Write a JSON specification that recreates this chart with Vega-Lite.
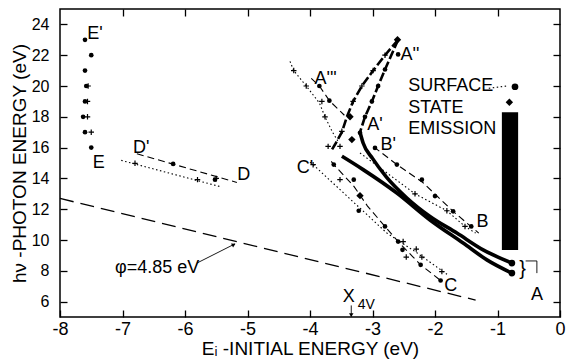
{
  "$schema": "https://vega.github.io/schema/vega-lite/v6.json",
  "width": 500,
  "height": 308,
  "autosize": "none",
  "padding": {"left": 60, "top": 9, "right": 7, "bottom": 45},
  "background": "white",
  "config": {"view": {"stroke": "black", "strokeWidth": 1.5}, "font": "Liberation Sans"},
  "datasets": {
    "lines": [
      {"s": "phi", "o": 1, "x": -8, "y": 12.7}, {"s": "phi", "o": 2, "x": -1.35, "y": 6.1},
      {"s": "Dd", "o": 1, "x": -6.77, "y": 15.6}, {"s": "Dd", "o": 2, "x": -5.17, "y": 13.74},
      {"s": "Dp", "o": 1, "x": -7.02, "y": 15.17}, {"s": "Dp", "o": 2, "x": -5.45, "y": 13.48},
      {"s": "AL", "o": 1, "x": -2.59, "y": 23}, {"s": "AL", "o": 2, "x": -2.8, "y": 22}, {"s": "AL", "o": 3, "x": -2.99, "y": 21}, {"s": "AL", "o": 4, "x": -3.17, "y": 20}, {"s": "AL", "o": 5, "x": -3.31, "y": 19}, {"s": "AL", "o": 6, "x": -3.41, "y": 18}, {"s": "AL", "o": 7, "x": -3.49, "y": 17}, {"s": "AL", "o": 8, "x": -3.6, "y": 16.2}, {"s": "AL", "o": 9, "x": -3.66, "y": 15.8},
      {"s": "AR", "o": 1, "x": -2.59, "y": 23}, {"s": "AR", "o": 2, "x": -2.8, "y": 21.07}, {"s": "AR", "o": 3, "x": -2.91, "y": 20}, {"s": "AR", "o": 4, "x": -3.01, "y": 19}, {"s": "AR", "o": 5, "x": -3.12, "y": 18}, {"s": "AR", "o": 6, "x": -3.2, "y": 17},
      {"s": "AU", "o": 1, "x": -3.2, "y": 17}, {"s": "AU", "o": 2, "x": -3.15, "y": 16.3}, {"s": "AU", "o": 3, "x": -3.0, "y": 15.3}, {"s": "AU", "o": 4, "x": -2.78, "y": 14.1}, {"s": "AU", "o": 5, "x": -2.45, "y": 12.73}, {"s": "AU", "o": 6, "x": -2.08, "y": 11.53}, {"s": "AU", "o": 7, "x": -1.65, "y": 10.45}, {"s": "AU", "o": 8, "x": -1.23, "y": 9.36}, {"s": "AU", "o": 9, "x": -0.77, "y": 8.5},
      {"s": "AW", "o": 1, "x": -3.49, "y": 15.44}, {"s": "AW", "o": 2, "x": -3.15, "y": 14.57}, {"s": "AW", "o": 3, "x": -2.61, "y": 13.05}, {"s": "AW", "o": 4, "x": -2.08, "y": 11.3}, {"s": "AW", "o": 5, "x": -1.55, "y": 9.8}, {"s": "AW", "o": 6, "x": -1.17, "y": 8.71}, {"s": "AW", "o": 7, "x": -0.77, "y": 7.85},
      {"s": "A3d", "o": 1, "x": -3.98, "y": 20.5}, {"s": "A3d", "o": 2, "x": -3.85, "y": 20}, {"s": "A3d", "o": 3, "x": -3.69, "y": 19.05}, {"s": "A3d", "o": 4, "x": -3.45, "y": 18.1},
      {"s": "A3p", "o": 1, "x": -4.32, "y": 21.6}, {"s": "A3p", "o": 2, "x": -4.26, "y": 21}, {"s": "A3p", "o": 3, "x": -4.06, "y": 20}, {"s": "A3p", "o": 4, "x": -3.85, "y": 18.9}, {"s": "A3p", "o": 5, "x": -3.76, "y": 18}, {"s": "A3p", "o": 6, "x": -3.64, "y": 17}, {"s": "A3p", "o": 7, "x": -3.55, "y": 16.4},
      {"s": "Bd", "o": 1, "x": -2.98, "y": 16.05}, {"s": "Bd", "o": 2, "x": -2.61, "y": 14.9}, {"s": "Bd", "o": 3, "x": -2.2, "y": 13.75}, {"s": "Bd", "o": 4, "x": -1.71, "y": 11.86}, {"s": "Bd", "o": 5, "x": -1.3, "y": 10.45},
      {"s": "Bp", "o": 1, "x": -3.2, "y": 15.65}, {"s": "Bp", "o": 2, "x": -2.32, "y": 13.0}, {"s": "Bp", "o": 3, "x": -1.81, "y": 11.9}, {"s": "Bp", "o": 4, "x": -1.52, "y": 10.88}, {"s": "Bp", "o": 5, "x": -1.35, "y": 10.45},
      {"s": "Cd", "o": 1, "x": -3.66, "y": 15.1}, {"s": "Cd", "o": 2, "x": -3.62, "y": 14.9}, {"s": "Cd", "o": 3, "x": -3.3, "y": 13.5}, {"s": "Cd", "o": 4, "x": -3.08, "y": 12.2}, {"s": "Cd", "o": 5, "x": -2.8, "y": 10.88}, {"s": "Cd", "o": 6, "x": -2.59, "y": 9.9}, {"s": "Cd", "o": 7, "x": -2.35, "y": 8.89}, {"s": "Cd", "o": 8, "x": -2.23, "y": 8.39}, {"s": "Cd", "o": 9, "x": -1.91, "y": 7.37},
      {"s": "Cp", "o": 1, "x": -4.0, "y": 15.05}, {"s": "Cp", "o": 2, "x": -3.95, "y": 14.89}, {"s": "Cp", "o": 3, "x": -2.77, "y": 10.45}, {"s": "Cp", "o": 4, "x": -2.3, "y": 9.2}, {"s": "Cp", "o": 5, "x": -1.8, "y": 7.75},
      {"s": "surf", "o": 1, "x": -1.14, "y": 19.85}, {"s": "surf", "o": 2, "x": -0.85, "y": 20.0},
      {"s": "xarr", "o": 1, "x": -3.34, "y": 5.75}, {"s": "xarr", "o": 2, "x": -3.34, "y": 5.05},
      {"s": "phiarr", "o": 1, "x": -5.81, "y": 8.5}, {"s": "phiarr", "o": 2, "x": -5.2, "y": 9.75},
      {"s": "brk", "o": 1, "x": -0.55, "y": 8.64}, {"s": "brk", "o": 2, "x": -0.37, "y": 8.64}, {"s": "brk", "o": 3, "x": -0.37, "y": 7.85}
    ],
    "dots": [
      {"x": -7.6, "y": 23}, {"x": -7.5, "y": 22}, {"x": -7.6, "y": 21}, {"x": -7.58, "y": 20}, {"x": -7.6, "y": 19}, {"x": -7.63, "y": 18}, {"x": -7.6, "y": 17}, {"x": -7.5, "y": 16},
      {"x": -6.19, "y": 14.94}, {"x": -5.52, "y": 13.92},
      {"x": -2.59, "y": 22.05}, {"x": -2.8, "y": 21.07}, {"x": -2.91, "y": 20}, {"x": -3.01, "y": 19}, {"x": -3.12, "y": 18}, {"x": -3.2, "y": 16.96},
      {"x": -3.85, "y": 20}, {"x": -3.69, "y": 19.05},
      {"x": -2.96, "y": 15.98}, {"x": -2.61, "y": 14.9}, {"x": -2.21, "y": 13.92}, {"x": -2.0, "y": 12.85}, {"x": -1.71, "y": 11.86}, {"x": -1.42, "y": 10.88},
      {"x": -3.62, "y": 14.9}, {"x": -3.3, "y": 13.92}, {"x": -3.22, "y": 11.9}, {"x": -2.8, "y": 10.88}, {"x": -2.59, "y": 9.9}, {"x": -2.52, "y": 9.36}, {"x": -2.23, "y": 8.39}, {"x": -1.91, "y": 7.37}
    ],
    "bigdots": [
      {"x": -0.72, "y": 19.95}, {"x": -0.77, "y": 8.5}, {"x": -0.77, "y": 7.85}
    ],
    "plus": [
      {"x": -7.55, "y": 20}, {"x": -7.56, "y": 19}, {"x": -7.56, "y": 18}, {"x": -7.5, "y": 17},
      {"x": -6.8, "y": 14.98}, {"x": -5.8, "y": 13.92}, {"x": -5.5, "y": 14.0},
      {"x": -2.8, "y": 22}, {"x": -2.99, "y": 21}, {"x": -3.17, "y": 20}, {"x": -3.31, "y": 19}, {"x": -3.49, "y": 17.06}, {"x": -3.52, "y": 16.08},
      {"x": -4.26, "y": 21}, {"x": -4.06, "y": 20}, {"x": -3.81, "y": 19}, {"x": -3.76, "y": 18}, {"x": -3.71, "y": 16.08},
      {"x": -2.32, "y": 13.0}, {"x": -1.81, "y": 11.9}, {"x": -1.52, "y": 10.88},
      {"x": -3.95, "y": 14.89}, {"x": -3.52, "y": 13.92}, {"x": -2.51, "y": 9.9}, {"x": -2.3, "y": 9.41}, {"x": -2.21, "y": 8.89}, {"x": -2.46, "y": 8.89}, {"x": -1.89, "y": 7.95}
    ],
    "diamonds": [
      {"x": -3.36, "y": 18.0}, {"x": -3.33, "y": 16.52}, {"x": -3.2, "y": 12.88}, {"x": -0.81, "y": 18.95}, {"x": -2.6, "y": 23.0}
    ],
    "band": [{"x": -0.93, "x2": -0.67, "y": 9.35, "y2": 18.3}],
    "labelsC": [
      {"t": "E'", "x": -7.44, "y": 23.35}, {"t": "E", "x": -7.38, "y": 15.02},
      {"t": "D'", "x": -6.7, "y": 16.0}, {"t": "D", "x": -5.06, "y": 14.21},
      {"t": "C'", "x": -4.08, "y": 14.68}, {"t": "C", "x": -1.75, "y": 7.0},
      {"t": "B", "x": -1.24, "y": 11.19}, {"t": "A", "x": -0.37, "y": 6.44},
      {"t": "A'", "x": -2.96, "y": 17.5}, {"t": "B'", "x": -2.75, "y": 16.2},
      {"t": "A''", "x": -2.4, "y": 22.0}, {"t": "A'''", "x": -3.75, "y": 20.43},
      {"t": "X", "x": -3.38, "y": 6.27}
    ],
    "labelsL": [
      {"t": "SURFACE", "x": -2.43, "y": 19.97}, {"t": "STATE", "x": -2.43, "y": 18.6}, {"t": "EMISSION", "x": -2.43, "y": 17.23},
      {"t": "φ=4.85 eV", "x": -7.12, "y": 8.19}
    ],
    "labelsS": [{"t": "4V", "x": -3.1, "y": 5.79}],
    "brace": [{"t": "}", "x": -0.6, "y": 8.1}],
    "arrowDown": [{"x": -3.34, "y": 5.12}],
    "arrowPhi": [{"x": -5.22, "y": 9.7}]
  },
  "resolve": {"axis": {"x": "independent", "y": "independent"}},
  "layer": [
    {
      "data": {"name": "lines"},
      "mark": {"type": "point", "opacity": 0},
      "encoding": {
        "x": {"field": "x", "type": "quantitative", "scale": {"domain": [-8, 0], "nice": false, "zero": false},
          "axis": {"orient": "bottom", "values": [-8, -7, -6, -5, -4, -3, -2, -1, 0], "labelExpr": "datum.value + ''", "labelFlush": false, "tickSize": -7, "tickColor": "black", "tickWidth": 1.3, "domain": false, "grid": false, "labelFontSize": 18, "labelColor": "black", "labelPadding": 10, "title": "Eᵢ -INITIAL ENERGY (eV)", "titleFontSize": 19, "titleFontWeight": "normal", "titleColor": "black", "titlePadding": 1}},
        "y": {"field": "y", "type": "quantitative", "scale": {"domain": [5, 25], "nice": false, "zero": false},
          "axis": {"orient": "left", "values": [6, 8, 10, 12, 14, 16, 18, 20, 22, 24], "labelExpr": "datum.value + ''", "labelFlush": false, "tickSize": -7, "tickColor": "black", "tickWidth": 1.3, "domain": false, "grid": false, "labelFontSize": 16, "labelColor": "black", "labelPadding": 18, "title": "hν -PHOTON ENERGY (eV)", "titleFontSize": 19, "titleFontWeight": "normal", "titleColor": "black", "titlePadding": 2}}
      }
    },
    {
      "data": {"name": "lines"},
      "mark": {"type": "point", "opacity": 0},
      "encoding": {
        "x": {"field": "x", "type": "quantitative", "scale": {"domain": [-8, 0], "nice": false, "zero": false},
          "axis": {"orient": "top", "values": [-7, -6, -5, -4, -3, -2, -1], "labels": false, "tickSize": -7, "tickColor": "black", "tickWidth": 1.3, "domain": false, "grid": false, "title": null}},
        "y": {"field": "y", "type": "quantitative", "scale": {"domain": [5, 25], "nice": false, "zero": false},
          "axis": {"orient": "right", "values": [6, 8, 10, 12, 14, 16, 18, 20, 22, 24], "labels": false, "tickSize": -7, "tickColor": "black", "tickWidth": 1.3, "domain": false, "grid": false, "title": null}}
      }
    },
    {
      "data": {"name": "band"},
      "mark": {"type": "rect", "color": "black"},
      "encoding": {
        "x": {"field": "x", "type": "quantitative", "scale": {"domain": [-8, 0], "nice": false, "zero": false}, "axis": null},
        "x2": {"field": "x2"},
        "y": {"field": "y", "type": "quantitative", "scale": {"domain": [5, 25], "nice": false, "zero": false}, "axis": null},
        "y2": {"field": "y2"}
      }
    },
    {
      "data": {"name": "lines"},
      "transform": [{"filter": {"field": "s", "oneOf": ["phi"]}}],
      "mark": {"type": "line", "color": "black", "strokeWidth": 1.3, "strokeDash": [14, 7]},
      "encoding": {
        "x": {"field": "x", "type": "quantitative", "scale": {"domain": [-8, 0], "nice": false, "zero": false}, "axis": null},
        "y": {"field": "y", "type": "quantitative", "scale": {"domain": [5, 25], "nice": false, "zero": false}, "axis": null},
        "detail": {"field": "s"}, "order": {"field": "o", "type": "quantitative"}
      }
    },
    {
      "data": {"name": "lines"},
      "transform": [{"filter": {"field": "s", "oneOf": ["Dd", "A3d", "Bd", "Cd"]}}],
      "mark": {"type": "line", "color": "black", "strokeWidth": 1.1, "strokeDash": [7, 4]},
      "encoding": {
        "x": {"field": "x", "type": "quantitative", "scale": {"domain": [-8, 0], "nice": false, "zero": false}, "axis": null},
        "y": {"field": "y", "type": "quantitative", "scale": {"domain": [5, 25], "nice": false, "zero": false}, "axis": null},
        "detail": {"field": "s"}, "order": {"field": "o", "type": "quantitative"}
      }
    },
    {
      "data": {"name": "lines"},
      "transform": [{"filter": {"field": "s", "oneOf": ["Dp", "A3p", "Bp", "Cp", "surf"]}}],
      "mark": {"type": "line", "color": "black", "strokeWidth": 1.1, "strokeDash": [1.5, 2.5]},
      "encoding": {
        "x": {"field": "x", "type": "quantitative", "scale": {"domain": [-8, 0], "nice": false, "zero": false}, "axis": null},
        "y": {"field": "y", "type": "quantitative", "scale": {"domain": [5, 25], "nice": false, "zero": false}, "axis": null},
        "detail": {"field": "s"}, "order": {"field": "o", "type": "quantitative"}
      }
    },
    {
      "data": {"name": "lines"},
      "transform": [{"filter": {"field": "s", "oneOf": ["AL", "AR"]}}],
      "mark": {"type": "line", "color": "black", "strokeWidth": 2.6, "strokeDash": [9, 3]},
      "encoding": {
        "x": {"field": "x", "type": "quantitative", "scale": {"domain": [-8, 0], "nice": false, "zero": false}, "axis": null},
        "y": {"field": "y", "type": "quantitative", "scale": {"domain": [5, 25], "nice": false, "zero": false}, "axis": null},
        "detail": {"field": "s"}, "order": {"field": "o", "type": "quantitative"}
      }
    },
    {
      "data": {"name": "lines"},
      "transform": [{"filter": {"field": "s", "oneOf": ["AU", "AW"]}}],
      "mark": {"type": "line", "color": "black", "strokeWidth": 3.6, "interpolate": "monotone"},
      "encoding": {
        "x": {"field": "x", "type": "quantitative", "scale": {"domain": [-8, 0], "nice": false, "zero": false}, "axis": null},
        "y": {"field": "y", "type": "quantitative", "scale": {"domain": [5, 25], "nice": false, "zero": false}, "axis": null},
        "detail": {"field": "s"}, "order": {"field": "o", "type": "quantitative"}
      }
    },
    {
      "data": {"name": "lines"},
      "transform": [{"filter": {"field": "s", "oneOf": ["xarr", "phiarr", "brk"]}}],
      "mark": {"type": "line", "color": "black", "strokeWidth": 0.9},
      "encoding": {
        "x": {"field": "x", "type": "quantitative", "scale": {"domain": [-8, 0], "nice": false, "zero": false}, "axis": null},
        "y": {"field": "y", "type": "quantitative", "scale": {"domain": [5, 25], "nice": false, "zero": false}, "axis": null},
        "detail": {"field": "s"}, "order": {"field": "o", "type": "quantitative"}
      }
    },
    {
      "data": {"name": "dots"},
      "mark": {"type": "point", "shape": "circle", "filled": true, "color": "black", "size": 22, "opacity": 1},
      "encoding": {
        "x": {"field": "x", "type": "quantitative", "scale": {"domain": [-8, 0], "nice": false, "zero": false}, "axis": null},
        "y": {"field": "y", "type": "quantitative", "scale": {"domain": [5, 25], "nice": false, "zero": false}, "axis": null}
      }
    },
    {
      "data": {"name": "bigdots"},
      "mark": {"type": "point", "shape": "circle", "filled": true, "color": "black", "size": 45, "opacity": 1},
      "encoding": {
        "x": {"field": "x", "type": "quantitative", "scale": {"domain": [-8, 0], "nice": false, "zero": false}, "axis": null},
        "y": {"field": "y", "type": "quantitative", "scale": {"domain": [5, 25], "nice": false, "zero": false}, "axis": null}
      }
    },
    {
      "data": {"name": "plus"},
      "mark": {"type": "point", "shape": "M-1,0L1,0M0,-1L0,1", "filled": false, "color": "black", "strokeWidth": 1.2, "size": 30, "opacity": 1},
      "encoding": {
        "x": {"field": "x", "type": "quantitative", "scale": {"domain": [-8, 0], "nice": false, "zero": false}, "axis": null},
        "y": {"field": "y", "type": "quantitative", "scale": {"domain": [5, 25], "nice": false, "zero": false}, "axis": null}
      }
    },
    {
      "data": {"name": "diamonds"},
      "mark": {"type": "point", "shape": "diamond", "filled": true, "color": "black", "size": 55, "opacity": 1},
      "encoding": {
        "x": {"field": "x", "type": "quantitative", "scale": {"domain": [-8, 0], "nice": false, "zero": false}, "axis": null},
        "y": {"field": "y", "type": "quantitative", "scale": {"domain": [5, 25], "nice": false, "zero": false}, "axis": null}
      }
    },
    {
      "data": {"name": "arrowDown"},
      "mark": {"type": "point", "shape": "triangle-down", "filled": true, "color": "black", "size": 20, "opacity": 1},
      "encoding": {
        "x": {"field": "x", "type": "quantitative", "scale": {"domain": [-8, 0], "nice": false, "zero": false}, "axis": null},
        "y": {"field": "y", "type": "quantitative", "scale": {"domain": [5, 25], "nice": false, "zero": false}, "axis": null}
      }
    },
    {
      "data": {"name": "arrowPhi"},
      "mark": {"type": "point", "shape": "triangle-up", "angle": 63, "filled": true, "color": "black", "size": 20, "opacity": 1},
      "encoding": {
        "x": {"field": "x", "type": "quantitative", "scale": {"domain": [-8, 0], "nice": false, "zero": false}, "axis": null},
        "y": {"field": "y", "type": "quantitative", "scale": {"domain": [5, 25], "nice": false, "zero": false}, "axis": null}
      }
    },
    {
      "data": {"name": "labelsC"},
      "mark": {"type": "text", "align": "center", "baseline": "middle", "fontSize": 18, "color": "black"},
      "encoding": {
        "x": {"field": "x", "type": "quantitative", "scale": {"domain": [-8, 0], "nice": false, "zero": false}, "axis": null},
        "y": {"field": "y", "type": "quantitative", "scale": {"domain": [5, 25], "nice": false, "zero": false}, "axis": null},
        "text": {"field": "t"}
      }
    },
    {
      "data": {"name": "labelsL"},
      "mark": {"type": "text", "align": "left", "baseline": "middle", "fontSize": 18, "color": "black"},
      "encoding": {
        "x": {"field": "x", "type": "quantitative", "scale": {"domain": [-8, 0], "nice": false, "zero": false}, "axis": null},
        "y": {"field": "y", "type": "quantitative", "scale": {"domain": [5, 25], "nice": false, "zero": false}, "axis": null},
        "text": {"field": "t"}
      }
    },
    {
      "data": {"name": "labelsS"},
      "mark": {"type": "text", "align": "center", "baseline": "middle", "fontSize": 14, "color": "black"},
      "encoding": {
        "x": {"field": "x", "type": "quantitative", "scale": {"domain": [-8, 0], "nice": false, "zero": false}, "axis": null},
        "y": {"field": "y", "type": "quantitative", "scale": {"domain": [5, 25], "nice": false, "zero": false}, "axis": null},
        "text": {"field": "t"}
      }
    },
    {
      "data": {"name": "brace"},
      "mark": {"type": "text", "align": "center", "baseline": "middle", "fontSize": 20, "color": "black"},
      "encoding": {
        "x": {"field": "x", "type": "quantitative", "scale": {"domain": [-8, 0], "nice": false, "zero": false}, "axis": null},
        "y": {"field": "y", "type": "quantitative", "scale": {"domain": [5, 25], "nice": false, "zero": false}, "axis": null},
        "text": {"field": "t"}
      }
    }
  ]
}
